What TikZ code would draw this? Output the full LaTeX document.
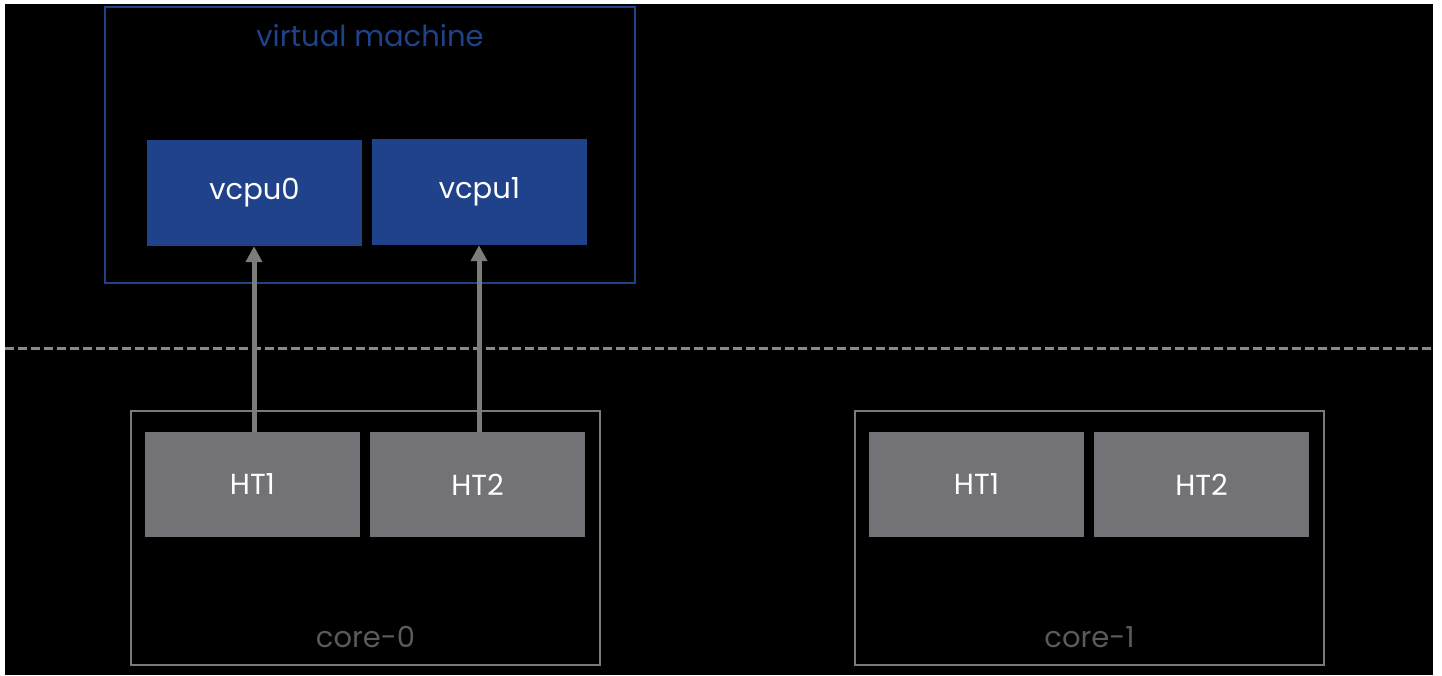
\documentclass[tikz,border=0pt]{standalone}
\usepackage{fontspec}
\setmainfont{Poppins}
\usetikzlibrary{arrows.meta}
\definecolor{vmblue}{HTML}{1F428A}
\definecolor{htgray}{HTML}{737276}
\definecolor{boxgray}{HTML}{7A7A7A}
\definecolor{lblgray}{HTML}{5A5A5A}
\definecolor{arrgray}{HTML}{7C7C7C}
\definecolor{dashgray}{HTML}{8A8A8A}
\tikzset{
  vcpu/.style={fill=vmblue, draw=none, minimum width=215pt, minimum height=106pt, inner sep=0pt, text=white, font=\fontsize{29}{32}\selectfont},
  htbox/.style={fill=htgray, draw=none, minimum width=215pt, minimum height=105pt, inner sep=0pt, text=white, font=\fontsize{29}{32}\selectfont},
  corebox/.style={draw=boxgray, line width=2pt, fill=none},
  corelbl/.style={text=lblgray, font=\fontsize{29}{32}\selectfont},
  conn/.style={draw=arrgray, line width=5pt, -{Triangle[width=16pt,length=16pt]}}
}
\begin{document}
\begin{tikzpicture}[x=1pt,y=-1pt]
\useasboundingbox (0,0) rectangle (1442,675);
\fill[white] (0,0) rectangle (1442,675);
\fill[black] (5,4) rectangle (1433,675);
% virtual machine
\draw[vmblue, line width=2.8pt] (105,7) rectangle (635,283);
\node[text=vmblue, font=\fontsize{29}{32}\selectfont] (vmlbl) at (370,36) {virtual machine};
\node[vcpu] (vcpu0) at (254.5,193) {vcpu0};
\node[vcpu] (vcpu1) at (479.5,192) {vcpu1};
% separator
\draw[dashgray, line width=3pt, dash pattern=on 9pt off 4pt] (5,348) -- (1433,348);
% core-0
\draw[corebox] (131,411) rectangle (600,665);
\node[htbox] (c0ht1) at (252.5,484.5) {HT1};
\node[htbox] (c0ht2) at (477.5,484.5) {HT2};
\node[corelbl] (c0lbl) at (365.5,637) {core-0};
% core-1
\draw[corebox] (855,411) rectangle (1324,665);
\node[htbox] (c1ht1) at (976.5,484.5) {HT1};
\node[htbox] (c1ht2) at (1201.5,484.5) {HT2};
\node[corelbl] (c1lbl) at (1089.5,637) {core-1};
% arrows
\draw[conn] (c0ht1.north -| 254,0) -- (vcpu0.south -| 254,0);
\draw[conn] (c0ht2.north -| 479,0) -- (vcpu1.south -| 479,0);
\end{tikzpicture}
\end{document}
